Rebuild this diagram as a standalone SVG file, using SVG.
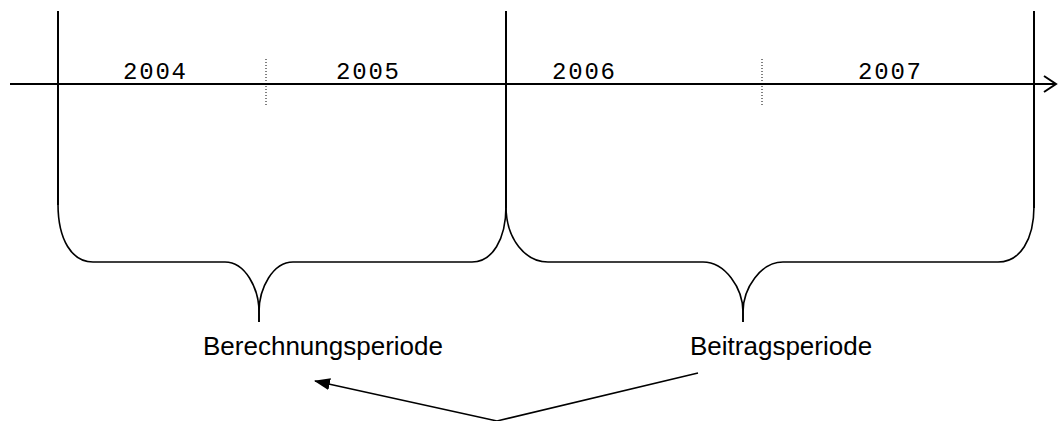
<svg xmlns="http://www.w3.org/2000/svg" width="1058" height="421" viewBox="0 0 1058 421">
<style>
.axis{stroke:#000;stroke-width:2;fill:none}
.dot{stroke:#000;stroke-width:1;stroke-dasharray:1,2;fill:none}
.brace{stroke:#000;stroke-width:1.6;fill:none}
.year{font-family:"Liberation Mono","Courier New",monospace;font-size:24px;letter-spacing:1.8px;fill:#000}
.lbl{font-family:"Liberation Sans",Arial,sans-serif;font-size:26px;fill:#000}
.conn{stroke:#000;stroke-width:1.5;fill:none}
</style>
<defs>
<marker id="ah" markerWidth="16" markerHeight="12" refX="15" refY="6" orient="auto" markerUnits="userSpaceOnUse">
<path d="M0,0 L16,6 L0,12 Z" fill="#000"/>
</marker>
</defs>
<g id="timeline">
<line class="axis" x1="10" y1="84" x2="1055" y2="84"/>
<polyline class="axis" points="1044,76 1056,84 1044,92" stroke-width="1.6"/>
<line class="axis" x1="58" y1="11" x2="58" y2="205"/>
<line class="axis" x1="506" y1="11" x2="506" y2="208"/>
<line class="axis" x1="1034" y1="11" x2="1034" y2="208"/>
<line class="dot" x1="266" y1="59" x2="266" y2="105"/>
<line class="dot" x1="762" y1="59" x2="762" y2="105"/>
</g>
<g id="years">
<text class="year" x="123" y="79">2004</text>
<text class="year" x="336" y="79">2005</text>
<text class="year" x="552" y="79">2006</text>
<text class="year" x="858" y="79">2007</text>
</g>
<g id="brace-berechnung">
<path class="brace" d="M58,204 C58,240 72,262 93,262 L225,262 C245,262 259,288 259,312 L259,322"/>
<path class="brace" d="M259,322 L259,312 C259,288 273,262 293,262 L472,262 C492,262 506,240 506,206"/>
</g>
<g id="brace-beitrag">
<path class="brace" d="M506,206 C506,240 526,262 548,262 L703,262 C725,262 743,288 743,312 L743,322"/>
<path class="brace" d="M743,322 L743,312 C743,288 761,262 783,262 L998,262 C1020,262 1034,240 1034,206"/>
</g>
<g id="node-berechnungsperiode">
<text class="lbl" x="203" y="355">Berechnungsperiode</text>
</g>
<g id="node-beitragsperiode">
<text class="lbl" x="690" y="355">Beitragsperiode</text>
</g>
<g id="connectors">
<polyline class="conn" points="698,373 497,421 315,381" marker-end="url(#ah)"/>
</g>
</svg>
